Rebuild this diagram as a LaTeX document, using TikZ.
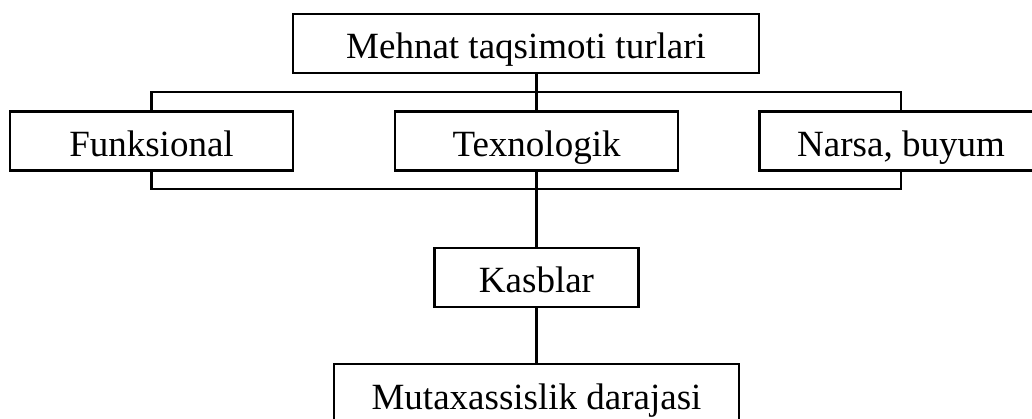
\documentclass[tikz,border=0pt]{standalone}
\usepackage{fontspec}
\setmainfont{Liberation Serif}
\usepackage{tikz}
\usetikzlibrary{positioning}
\tikzset{
	box/.style={draw, line width=2.2pt, inner sep=0pt, minimum width=283pt, minimum height=59pt, text height=39pt, text depth=8pt, font=\fontsize{37}{44}\selectfont},
	link/.style={line width=2.2pt}
}

\begin{document}
\begin{tikzpicture}[x=1pt, y=-1pt]
	\useasboundingbox (0,0) rectangle (1032,419);
	\node[box, minimum width=466pt] (turlar) at (526, 43.5) {Mehnat taqsimoti turlari};
	\node[box] (funk) at (151.5, 141) {Funksional};
	\node[box] (texno) at (536.5, 141) {Texnologik};
	\node[box] (narsa) at (901, 141) {Narsa, buyum};
	\node[box, minimum width=204pt] (kasb) at (536.5, 277.5) {Kasblar};
	\node[box, minimum width=405pt] (mutax) at (536.5, 393.5) {Mutaxassislik darajasi};
	\coordinate (upbar) at (0, 92);
	\coordinate (lowbar) at (0, 189);
	\draw[link] (texno.north |- turlar.south) -- (texno.north);
	\draw[link] (funk.north) -- (funk.north |- upbar) -| (narsa.north);
	\draw[link] (funk.south) -- (funk.south |- lowbar) -| (narsa.south);
	\draw[link] (kasb.north |- texno.south) -- (kasb.north);
	\draw[link] (kasb.south) -- (mutax.north);
\end{tikzpicture}
\end{document}
